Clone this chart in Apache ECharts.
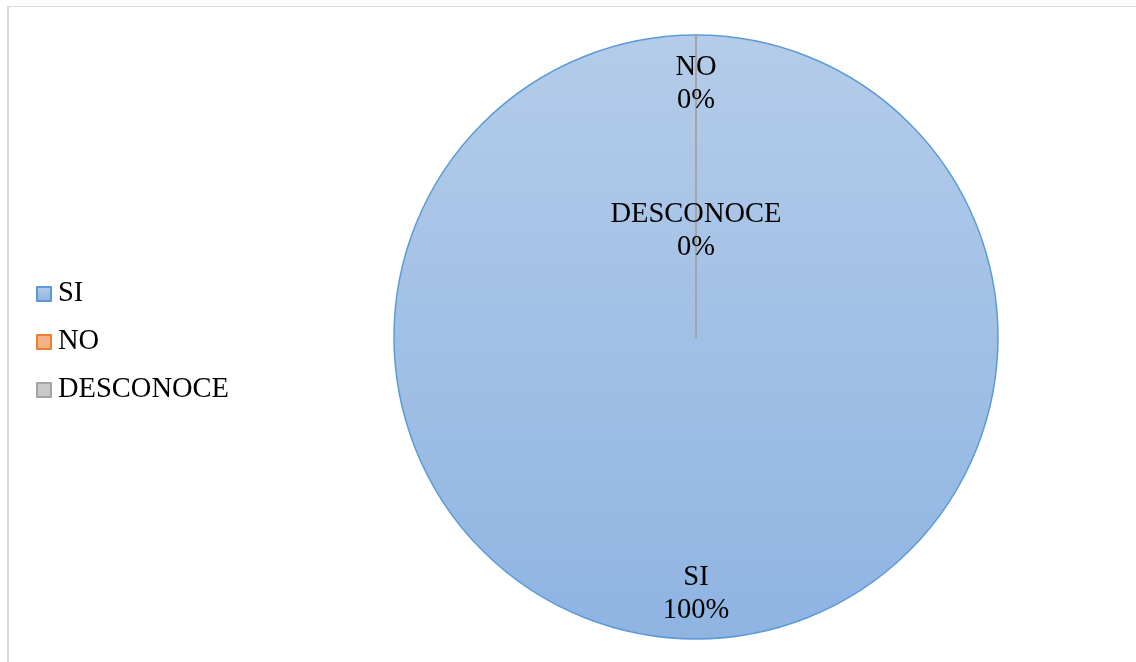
<!DOCTYPE html>
<html>
<head>
<meta charset="utf-8">
<script src="https://cdn.jsdelivr.net/npm/echarts@6/dist/echarts.min.js"></script>
<style>
  html, body { margin: 0; padding: 0; background: #ffffff; }
  #chart { position: absolute; left: 0; top: 0; width: 1136px; height: 662px; }
  #frame { position: absolute; left: 7px; top: 6px; width: 1200px; height: 700px;
           border-left: 2px solid #d9d9d9; border-top: 1px solid #d9d9d9; pointer-events: none; }
</style>
</head>
<body>
<div id="chart"></div>
<div id="frame"></div>
<script>
const categories = ['SI', 'NO', 'DESCONOCE'];
const values = [100, 0, 0];
const fillColors = [
  { type: 'linear', x: 0, y: 0, x2: 0, y2: 1,
    colorStops: [{ offset: 0, color: '#b4cce9' }, { offset: 1, color: '#8fb4e2' }] },
  '#f4b183',
  '#c9c9c9'
];
const borderColors = ['#5b9bd5', '#ed7d31', '#a5a5a5'];
const borderWidths = [1.5, 2, 2];
const labelOffsets = [[0, 103], [0, -99], [0, 48]];

const FONT = '"Liberation Serif", "Times New Roman", serif';

const chart = echarts.init(document.getElementById('chart'), null, { renderer: 'canvas' });
chart.setOption({
  animation: false,
  backgroundColor: 'transparent',
  legend: {
    orient: 'vertical',
    left: 31,
    top: 274,
    icon: 'rect',
    itemWidth: 14,
    itemHeight: 14,
    itemGap: 18,
    data: categories,
    textStyle: { fontFamily: FONT, fontSize: 28.5, color: '#000', lineHeight: 30, padding: [0, 0, 0, 2] }
  },
  series: [{
    type: 'pie',
    center: [696, 337],
    radius: [0, 302],
    startAngle: 90,
    clockwise: true,
    minShowLabelAngle: -1,
    avoidLabelOverlap: false,
    label: {
      show: true,
      position: 'inside',
      formatter: '{b}\n{d}%',
      fontFamily: FONT,
      fontSize: 28.5,
      lineHeight: 33,
      color: '#000'
    },
    labelLine: { show: false },
    emphasis: { disabled: true },
    data: categories.map((c, i) => ({
      name: c,
      value: values[i],
      itemStyle: { color: fillColors[i], borderColor: borderColors[i], borderWidth: borderWidths[i] },
      label: { offset: labelOffsets[i] }
    }))
  }]
});
</script>
</body>
</html>
